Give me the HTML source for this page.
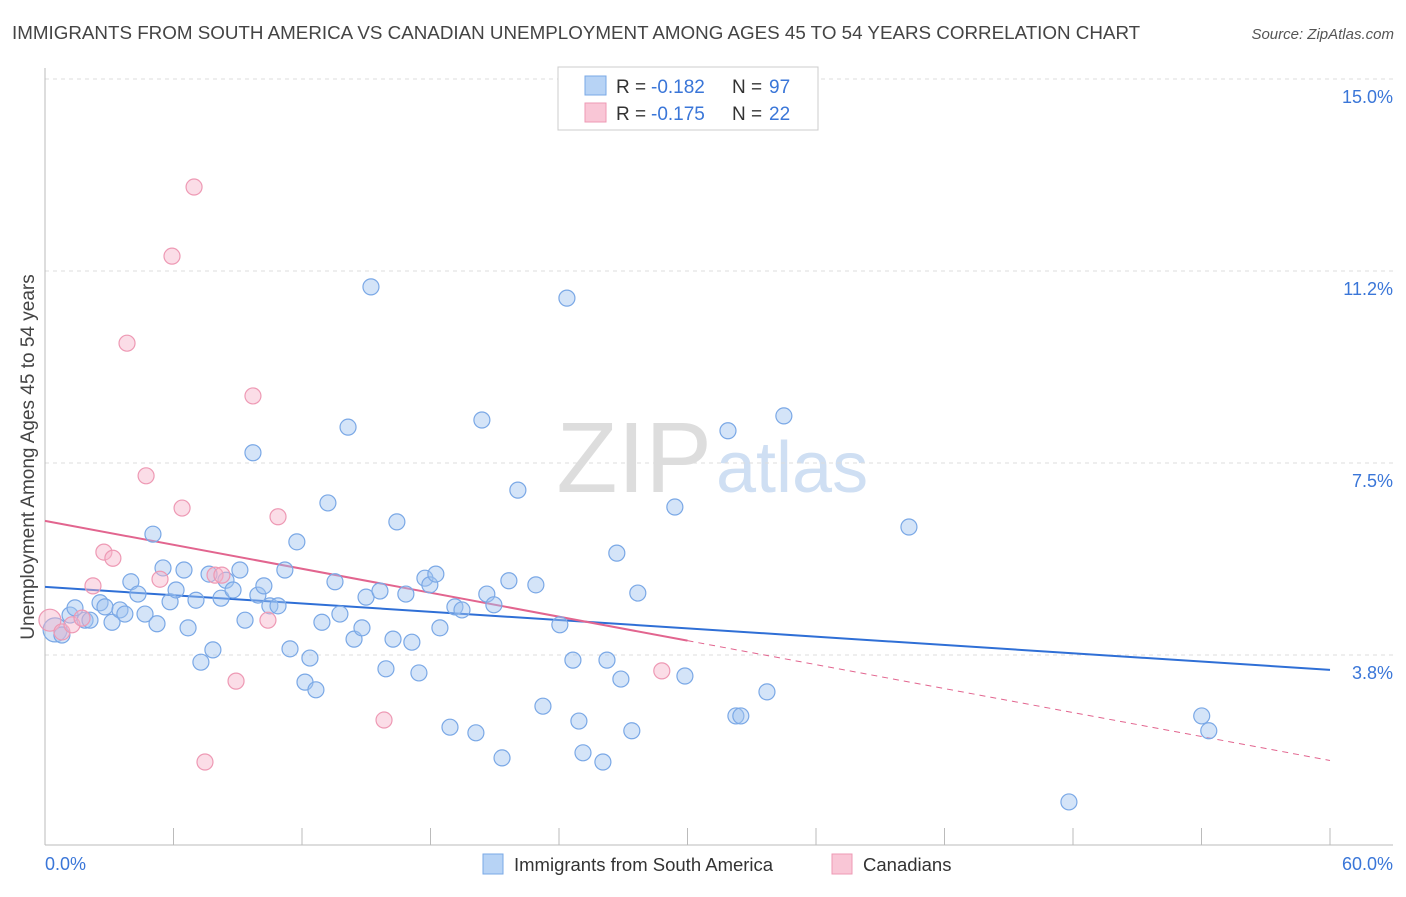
<!DOCTYPE html>
<html><head><meta charset="utf-8"><style>
body{margin:0;background:#fff;font-family:"Liberation Sans",sans-serif;}
svg text{font-family:"Liberation Sans",sans-serif;}
</style></head><body>
<svg id="chart" width="1406" height="892" viewBox="0 0 1406 892" xmlns="http://www.w3.org/2000/svg">
<text x="12" y="39" font-size="18.8" fill="#444">IMMIGRANTS FROM SOUTH AMERICA VS CANADIAN UNEMPLOYMENT AMONG AGES 45 TO 54 YEARS CORRELATION CHART</text>
<text x="1394" y="39" font-size="15" fill="#555" text-anchor="end" font-style="italic">Source: ZipAtlas.com</text>
<text x="712" y="492" font-size="100" text-anchor="end" fill="#ddd" font-family="Liberation Serif">ZIP</text>
<text x="716" y="492" font-size="72" fill="#cfdff3">atlas</text>
<g id="grid"></g>
<g id="axes"></g>
<g id="lines"></g>
<g id="pts"></g>
<text transform="translate(34,457) rotate(-90)" font-size="19" fill="#444" text-anchor="middle">Unemployment Among Ages 45 to 54 years</text>
<g>
<rect x="558" y="67" width="260" height="63" fill="#fff" stroke="#ccc"/>
<rect x="585" y="76" width="21" height="19" fill="#b7d3f5" stroke="#7aa8e6"/>
<rect x="585" y="103" width="21" height="19" fill="#f9c6d6" stroke="#ee99b4"/>
<text y="93" font-size="19" fill="#333"><tspan x="616">R =</tspan><tspan x="651" fill="#3a76d8">-0.182</tspan><tspan x="732">N =</tspan><tspan x="769" fill="#3a76d8">97</tspan></text>
<text y="120" font-size="19" fill="#333"><tspan x="616">R =</tspan><tspan x="651" fill="#3a76d8">-0.175</tspan><tspan x="732">N =</tspan><tspan x="769" fill="#3a76d8">22</tspan></text>
</g>
<g>
<rect x="483" y="854" width="20" height="20" fill="#b7d3f5" stroke="#7aa8e6"/>
<text x="514" y="871" font-size="18.5" fill="#333">Immigrants from South America</text>
<rect x="832" y="854" width="20" height="20" fill="#f9c6d6" stroke="#ee99b4"/>
<text x="863" y="871" font-size="18.5" fill="#333">Canadians</text>
</g>
</svg>
<script>
const blueX=[0.47,0.79,1.17,1.40,1.87,2.10,2.57,2.80,3.13,3.50,3.73,4.01,4.34,4.67,5.04,5.23,5.51,5.84,6.12,6.49,6.68,7.05,7.28,7.66,7.84,8.22,8.45,8.78,9.10,9.34,9.71,9.94,10.22,10.50,10.88,11.20,11.44,11.76,12.14,12.37,12.65,12.93,13.21,13.54,13.77,14.15,14.43,14.80,14.99,15.22,15.64,15.92,16.25,16.43,16.85,17.13,17.46,17.74,17.97,18.25,18.44,18.91,19.14,19.47,20.12,20.40,20.63,20.96,21.34,21.66,22.08,22.92,23.25,24.04,24.37,24.65,24.93,25.12,26.05,26.24,26.70,26.89,27.40,27.68,29.41,29.88,31.89,32.26,32.49,33.71,34.50,40.34,47.81,54.01,54.34];
const blueY=[4.24,4.14,4.53,4.67,4.43,4.43,4.77,4.69,4.39,4.63,4.55,5.18,4.94,4.55,6.11,4.36,5.45,4.79,5.02,5.41,4.28,4.82,3.61,5.33,3.85,4.86,5.21,5.02,5.41,4.43,7.70,4.92,5.10,4.71,4.71,5.41,3.87,5.96,3.22,3.69,3.07,4.39,6.72,5.18,4.55,8.20,4.06,4.28,4.88,10.94,5.00,3.48,4.06,6.35,4.94,4.00,3.40,5.25,5.12,5.33,4.28,2.34,4.69,4.63,2.23,8.34,4.94,4.73,1.74,5.20,6.97,5.12,2.75,4.34,10.72,3.65,2.46,1.84,1.66,3.65,5.74,3.28,2.27,4.96,6.64,3.34,8.13,2.56,2.56,3.03,8.42,6.25,0.88,2.56,2.27];
const pinkX=[0.23,0.79,1.26,1.73,2.24,2.75,3.17,3.83,4.72,5.37,5.93,6.40,6.96,7.47,7.94,8.26,8.92,9.71,10.41,10.88,15.83,28.80];
const pinkY=[4.43,4.20,4.34,4.47,5.10,5.76,5.64,9.84,7.25,5.23,11.54,6.62,12.89,1.66,5.31,5.31,3.24,8.81,4.43,6.45,2.48,3.44];
const blueTrend=[5.08,3.46];
const pinkTrend=[6.37,1.69];
const pinkSolidEnd=30;
const yTicks=[15.0,11.25,7.5,3.75];
const yTickLabels=["15.0%","11.2%","7.5%","3.8%"];
const xTickVals=[0,6,12,18,24,30,36,42,48,54,60];
const NS="http://www.w3.org/2000/svg";
const X=v=>45+v*(1285/60), Y=v=>79+(15-v)*51.2;
function mk(tag,attrs,parent){const e=document.createElementNS(NS,tag);for(const k in attrs)e.setAttribute(k,attrs[k]);document.getElementById(parent).appendChild(e);return e;}
yTicks.forEach((t,i)=>{
 const g=mk('line',{x1:45,x2:1393,y1:Y(t),y2:Y(t),stroke:'#ddd','stroke-dasharray':'4,4'},'grid');
 
 
 const l=mk('text',{x:1393,y:Y(t)+24,'font-size':18,fill:'#3a76d8','text-anchor':'end'},'grid');
 l.textContent=yTickLabels[i];
 
 
});
mk('line',{x1:45,x2:45,y1:68,y2:845,stroke:'#bbb'},'axes');
mk('line',{x1:45,x2:1393,y1:845,y2:845,stroke:'#bbb'},'axes');
xTickVals.forEach(t=>{
 const k=mk('line',{x1:X(t),x2:X(t),y1:828,y2:845,stroke:'#bbb'},'axes');
 
 
});
const x0=mk('text',{x:45,y:870,'font-size':18,fill:'#3a76d8'},'axes');x0.textContent='0.0%';


const x1=mk('text',{x:1393,y:870,'font-size':18,fill:'#3a76d8','text-anchor':'end'},'axes');x1.textContent='60.0%';


blueX.forEach((v,i)=>{
 const c=mk('circle',{cx:X(v),cy:Y(blueY[i]),r:i===0?12:8,fill:'rgba(160,195,240,0.45)',stroke:'#7aa8e6','stroke-width':1.2},'pts');
 
 
});
pinkX.forEach((v,i)=>{
 const c=mk('circle',{cx:X(v),cy:Y(pinkY[i]),r:i===0?11:8,fill:'rgba(246,180,202,0.45)',stroke:'#ee99b4','stroke-width':1.2},'pts');
 
 
});
const pv=x=>pinkTrend[0]+(pinkTrend[1]-pinkTrend[0])*x/60;
const bl=mk('line',{x1:X(0),y1:Y(blueTrend[0]),x2:X(60),y2:Y(blueTrend[1]),stroke:'#2f6fd6','stroke-width':2},'lines');


const pl=mk('line',{x1:X(0),y1:Y(pv(0)),x2:X(pinkSolidEnd),y2:Y(pv(pinkSolidEnd)),stroke:'#e2658f','stroke-width':2},'lines');


const pd=mk('line',{x1:X(pinkSolidEnd),y1:Y(pv(pinkSolidEnd)),x2:X(60),y2:Y(pv(60)),stroke:'#e2658f','stroke-width':1,'stroke-dasharray':'6,5'},'lines');


</script>
</body></html>
